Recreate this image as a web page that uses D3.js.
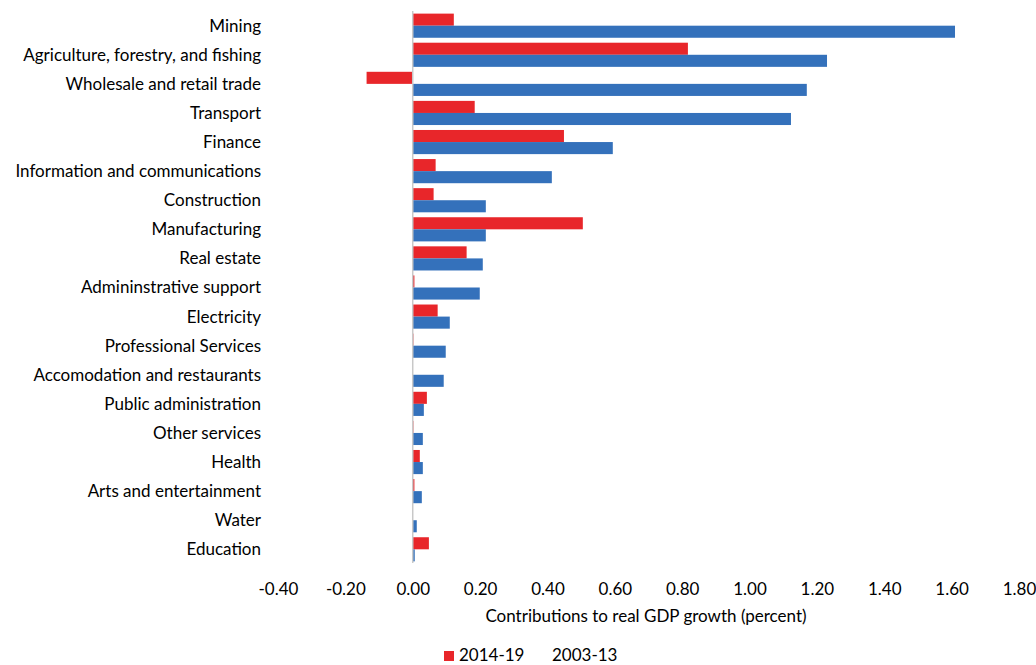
<!DOCTYPE html>
<html>
<head>
<meta charset="utf-8">
<script src="https://cdn.jsdelivr.net/npm/d3@7"></script>
<style>
  body { margin: 0; background: #fff; }
  text { font-family: Lato, "Open Sans", sans-serif; fill: #000; }
</style>
</head>
<body>
<script>
// sectors, top to bottom
var sectors = ["Mining", "Agriculture, forestry, and fishing", "Wholesale and retail trade",
  "Transport", "Finance", "Information and communications", "Construction", "Manufacturing",
  "Real estate", "Admininstrative support", "Electricity", "Professional Services",
  "Accomodation and restaurants", "Public administration", "Other services", "Health",
  "Arts and entertainment", "Water", "Education"];

// 2014-19 contributions
var recent = [0.122, 0.817, -0.137, 0.184, 0.449, 0.068, 0.062, 0.505, 0.160, 0.005,
  0.074, 0.002, 0.0, 0.042, 0.002, 0.021, 0.005, 0.0, 0.048];

// 2003-13 contributions
var earlier = [1.61, 1.23, 1.17, 1.123, 0.594, 0.413, 0.217, 0.217, 0.208, 0.199,
  0.110, 0.098, 0.092, 0.033, 0.030, 0.030, 0.027, 0.012, 0.006];

var xTicks = [-0.4, -0.2, 0, 0.2, 0.4, 0.6, 0.8, 1.0, 1.2, 1.4, 1.6, 1.8];

var series = [
  {name: "2014-19", values: recent, color: "#E8262A"},
  {name: "2003-13", values: earlier, color: "#3471BB"}
];

var width = 1036, height = 665;
var margin = {top: 11, right: 17, bottom: 101, left: 278};

var svg = d3.select("body").append("svg")
    .attr("width", width)
    .attr("height", height);

var x = d3.scaleLinear().domain([-0.4, 1.8]).range([margin.left, width - margin.right]);
var y = d3.scaleBand().domain(sectors).range([margin.top, height - margin.bottom]).paddingInner(0.17).paddingOuter(0.09);
var ySub = d3.scaleBand().domain(series.map(function(s) { return s.name; })).range([0, y.bandwidth()]);

// bars
series.forEach(function(s) {
  svg.append("g")
    .selectAll("rect")
    .data(s.values)
    .enter().append("rect")
      .attr("x", function(d) { return x(Math.min(0, d)); })
      .attr("y", function(d, i) { return y(sectors[i]) + ySub(s.name); })
      .attr("width", function(d) { return Math.abs(x(d) - x(0)); })
      .attr("height", ySub.bandwidth())
      .attr("fill", s.color);
});

// zero line
svg.append("line")
    .attr("x1", x(0)).attr("x2", x(0))
    .attr("y1", margin.top).attr("y2", height - margin.bottom - 1)
    .attr("stroke", "#c8c8c8")
    .attr("stroke-width", 1.5);

// category labels
svg.append("g")
  .selectAll("text")
  .data(sectors)
  .enter().append("text")
    .attr("x", 261)
    .attr("y", function(d) { return y(d) + y.bandwidth() / 2; })
    .attr("dy", "0.35em")
    .attr("text-anchor", "end")
    .style("font-size", "17px")
    .text(function(d) { return d; });

// x axis tick labels
var fmt = d3.format(".2f");
var xAxis = svg.append("g")
    .attr("transform", "translate(0," + (height - margin.bottom) + ")")
    .call(d3.axisBottom(x).tickValues(xTicks)
      .tickFormat(function(d) { return fmt(d).replace("\u2212", "-"); })
      .tickSize(0).tickPadding(19));
xAxis.select(".domain").remove();
xAxis.selectAll("text").style("font-size", "17px").style("font-family", "Lato, sans-serif");

svg.append("text")
    .attr("x", 646)
    .attr("y", 622)
    .attr("text-anchor", "middle")
    .style("font-size", "17px")
    .text("Contributions to real GDP growth (percent)");

// legend
svg.append("rect")
    .attr("x", 444).attr("y", 651)
    .attr("width", 10).attr("height", 10)
    .attr("fill", series[0].color);
svg.append("text")
    .attr("x", 459).attr("y", 661)
    .style("font-size", "17px")
    .text(series[0].name);
svg.append("text")
    .attr("x", 552).attr("y", 661)
    .style("font-size", "17px")
    .text(series[1].name);
</script>
</body>
</html>
